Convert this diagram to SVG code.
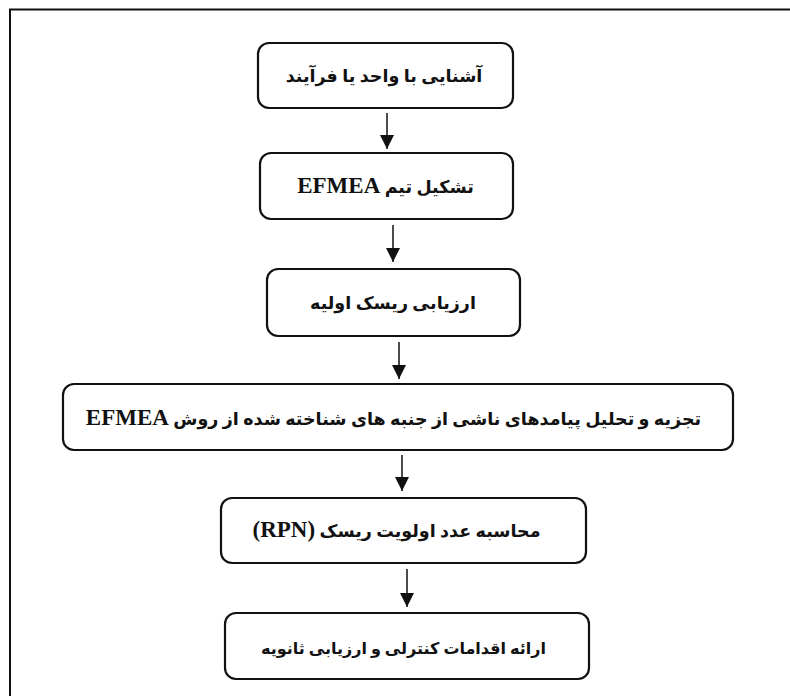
<svg xmlns="http://www.w3.org/2000/svg" width="790" height="696" viewBox="0 0 790 696">
<style>
.frame{fill:none;stroke:#111;stroke-width:2}
.box{fill:#fff;stroke:#111;stroke-width:2.2}
.lbl{font-family:"Liberation Serif","DejaVu Sans",sans-serif;font-weight:bold;font-size:17.5px;fill:#111;text-anchor:middle;direction:rtl}
.lat{font-size:23px}
.con{stroke:#111;stroke-width:1.5;fill:none}
</style>
<defs>
<marker id="ah" viewBox="0 0 14 14" refX="14" refY="7" markerWidth="14" markerHeight="14" markerUnits="userSpaceOnUse" orient="auto">
<path d="M0,0 L14,7 L0,14 Z" fill="#111"/>
</marker>
</defs>
<rect width="790" height="696" fill="#fff"/>
<rect class="frame" x="10" y="9.5" width="800" height="700"/>
<g id="connectors">
<line class="con" x1="387" y1="113" x2="387" y2="149" marker-end="url(#ah)"/>
<line class="con" x1="393" y1="225" x2="393" y2="262" marker-end="url(#ah)"/>
<line class="con" x1="399" y1="342" x2="399" y2="379" marker-end="url(#ah)"/>
<line class="con" x1="402" y1="455" x2="402" y2="491" marker-end="url(#ah)"/>
<line class="con" x1="407" y1="569" x2="407" y2="607" marker-end="url(#ah)"/>
</g>
<g id="n1">
<rect class="box" x="258" y="43" width="255" height="65" rx="11"/>
<text class="lbl" x="384" y="82">آشنایی با واحد یا فرآیند</text>
</g>
<g id="n2">
<rect class="box" x="260" y="153" width="253" height="66" rx="11"/>
<text class="lbl" x="385.5" y="193">تشکیل تیم <tspan class="lat">EFMEA</tspan></text>
</g>
<g id="n3">
<rect class="box" x="267" y="269" width="253" height="67" rx="11"/>
<text class="lbl" x="393" y="309">ارزیابی ریسک اولیه</text>
</g>
<g id="n4">
<rect class="box" x="63" y="384" width="670" height="66" rx="11"/>
<text class="lbl" x="393.5" y="425">تجزیه و تحلیل پیامدهای ناشی از جنبه های شناخته شده از روش <tspan class="lat">EFMEA</tspan></text>
</g>
<g id="n5">
<rect class="box" x="221" y="498" width="365" height="65" rx="11"/>
<text class="lbl" x="396.5" y="537">محاسبه عدد اولویت ریسک <tspan class="lat">(RPN)</tspan></text>
</g>
<g id="n6">
<rect class="box" x="225" y="613" width="364" height="66" rx="11"/>
<text class="lbl" x="403.5" y="654" style="font-size:16px">ارائه اقدامات کنترلی و ارزیابی ثانویه</text>
</g>
</svg>
